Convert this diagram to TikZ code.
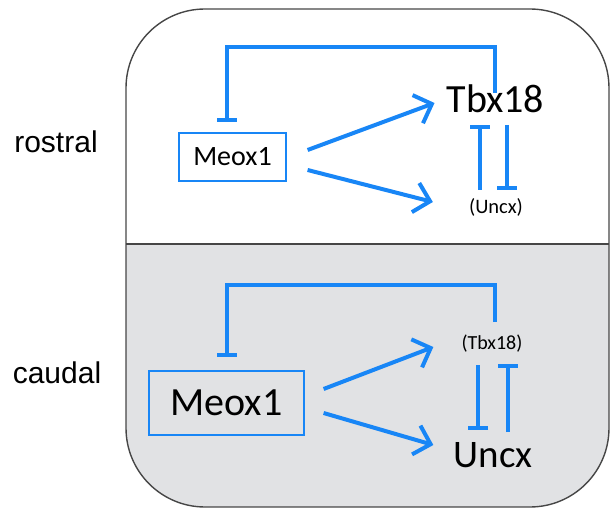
\documentclass[tikz,border=0pt]{standalone}
\usepackage{fontspec}
\setmainfont{Carlito}
\newfontfamily\labfont{Liberation Sans}
\usetikzlibrary{arrows.meta,calc}
\definecolor{netblue}{RGB}{24,134,246}
\definecolor{panelgray}{RGB}{225,226,228}
\definecolor{framegray}{RGB}{70,70,70}
\tikzset{
  gene/.style={inner sep=0pt, text=black},
  genebox/.style={draw=netblue, line width=1.2pt, inner sep=0pt, text=black},
  side/.style={inner sep=0pt, font=\labfont\fontsize{30}{36}\selectfont},
  act/.style={draw=netblue, line width=4pt, -{Straight Barb[length=15pt,width=30pt,line width=4pt]}},
  inh/.style={draw=netblue, line width=4pt, -{Bar[width=20pt,line width=4pt]}},
}
\begin{document}
\begin{tikzpicture}[x=1pt,y=-1pt]
\useasboundingbox (0,0) rectangle (611,508);

% rounded frame with its shaded lower half
\begin{scope}
  \clip[rounded corners=79pt] (126,9) rectangle (609,507);
  \fill[panelgray] (126,244) rectangle (609,507);
\end{scope}
\draw[framegray, line width=1.4pt] (126,244) -- (609,244);
\draw[framegray, line width=1.4pt, rounded corners=79pt] (126,9) rectangle (609,507);

% side labels
\node[side] (rostral) at (56,142) {rostral};
\node[side] (caudal) at (57,373) {caudal};

% rostral network
\node[genebox, minimum width=107pt, minimum height=48pt, font=\fontsize{28}{34}\selectfont] (m1) at (232.5,157) {Meox1};
\node[gene, anchor=base, font=\fontsize{40}{48}\selectfont] (t1) at (495.5,113) {Tbx18};
\node[gene, anchor=base, font=\fontsize{20.5}{24}\selectfont] (u1) at (496,214) {(Uncx)};

\draw[act] ($(m1.east)+(21,-7)$) -- ($(t1.base west)+(-12,-10)$);
\draw[act] ($(m1.east)+(21,13)$) -- ($(u1.base west)+(-36,-12)$);
\draw[inh] ($(t1.base)+(-1,-20)$) |- ($(m1.north)+(-6,-85)$) -- ($(m1.north)+(-6,-10)$);
\draw[inh] ($(u1.base)+(-16,-24)$) -- ($(t1.base)+(-15.5,12)$);
\draw[inh] ($(t1.base)+(11.5,12)$) -- ($(u1.base)+(11,-24)$);

% caudal network
\node[genebox, minimum width=155pt, minimum height=64pt, font=\fontsize{40}{48}\selectfont] (m2) at (226.5,403) {Meox1};
\node[gene, anchor=base, font=\fontsize{20}{24}\selectfont] (t2) at (492,349) {(Tbx18)};
\node[gene, anchor=base, font=\fontsize{39}{46}\selectfont] (u2) at (493,467) {Uncx};

\draw[act] ($(m2.east)+(19,-14)$) -- ($(t2.base west)+(-28,-2)$);
\draw[act] ($(m2.east)+(19,10)$) -- ($(u2.base west)+(-20,-22)$);
\draw[inh] ($(t2.base)+(3,-27)$) |- ($(m2.north)+(0,-85)$) -- ($(m2.north)+(0,-13)$);
\draw[inh] ($(t2.base)+(-14,16)$) -- ($(u2.base)+(-15,-37)$);
\draw[inh] ($(u2.base)+(15,-35)$) -- ($(t2.base)+(16,15)$);
\end{tikzpicture}
\end{document}
